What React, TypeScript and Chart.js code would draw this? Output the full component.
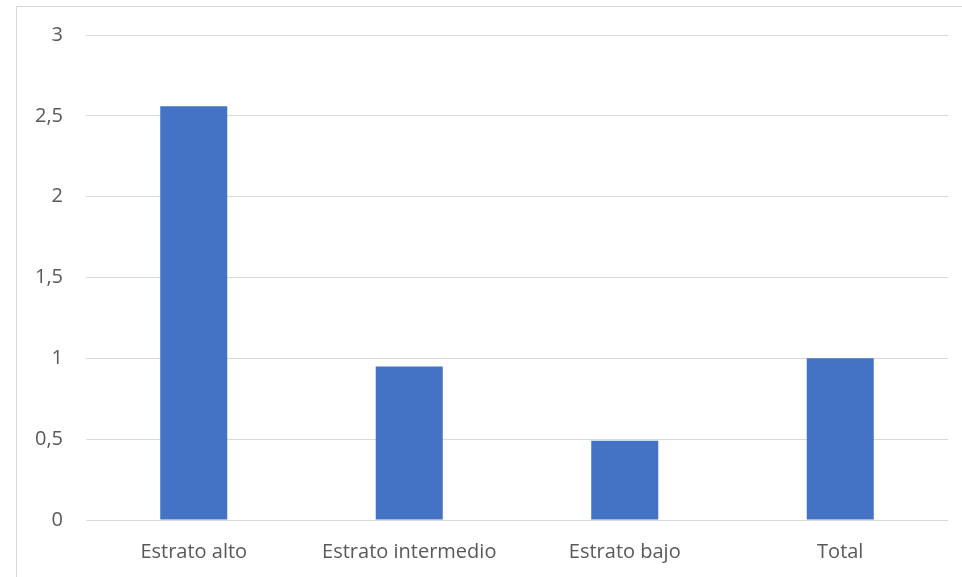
import React, { useEffect, useRef } from 'react';
import { Chart, registerables } from 'chart.js';

Chart.register(...registerables);

const categories = ['Estrato alto', 'Estrato intermedio', 'Estrato bajo', 'Total'];
const values = [2.56, 0.95, 0.49, 1.0];
const yTicks = [0, 0.5, 1, 1.5, 2, 2.5, 3];

const textColor = '#595959';
const gridColor = '#d9d9d9';
const fontFamily = 'Open Sans';

const App: React.FC = () => {
  const chartRef = useRef<HTMLCanvasElement>(null);
  const chartInstance = useRef<Chart | null>(null);

  useEffect(() => {
    document.body.style.margin = '0';
    if (chartRef.current) {
      if (chartInstance.current) {
        chartInstance.current.destroy();
      }
      chartInstance.current = new Chart(chartRef.current, {
        type: 'bar',
        data: {
          labels: categories,
          datasets: [{
            data: values,
            backgroundColor: '#4472C4',
            borderWidth: 0,
            barPercentage: 0.311,
            categoryPercentage: 1,
          }],
        },
        options: {
          animation: false,
          responsive: false,
          events: [],
          layout: { padding: { top: 35, right: 14, left: 0, bottom: 0 } },
          plugins: {
            legend: { display: false },
            tooltip: { enabled: false },
          },
          scales: {
            x: {
              grid: { display: false },
              border: { display: false },
              ticks: {
                color: textColor,
                font: { family: fontFamily, size: 20 },
                padding: 12,
                maxRotation: 0,
              },
              afterFit: (scale: any) => { scale.height = 57; },
            },
            y: {
              min: 0,
              max: 3,
              afterBuildTicks: (scale: any) => {
                scale.ticks = yTicks.map(v => ({ value: v }));
              },
              grid: { color: gridColor, lineWidth: 1, drawTicks: false },
              border: { display: false },
              ticks: {
                color: textColor,
                font: { family: fontFamily, size: 20 },
                padding: 23,
                callback: (v: any) => String(v).replace('.', ','),
              },
              afterFit: (scale: any) => { scale.width = 86; },
            },
          },
        },
      });
    }
    return () => {
      if (chartInstance.current) {
        chartInstance.current.destroy();
        chartInstance.current = null;
      }
    };
  }, []);

  return (
    <div style={{ position: 'relative', width: 962, height: 577, background: '#fff', overflow: 'hidden' }}>
      <div style={{
        position: 'absolute', left: 16, top: 6, right: 0, bottom: 0,
        borderTop: '1px solid #d9d9d9', borderLeft: '1px solid #d9d9d9',
        pointerEvents: 'none',
      }} />
      <canvas ref={chartRef} width={962} height={577} style={{ position: 'absolute', left: 0, top: 0 }} />
    </div>
  );
};

export default App;
